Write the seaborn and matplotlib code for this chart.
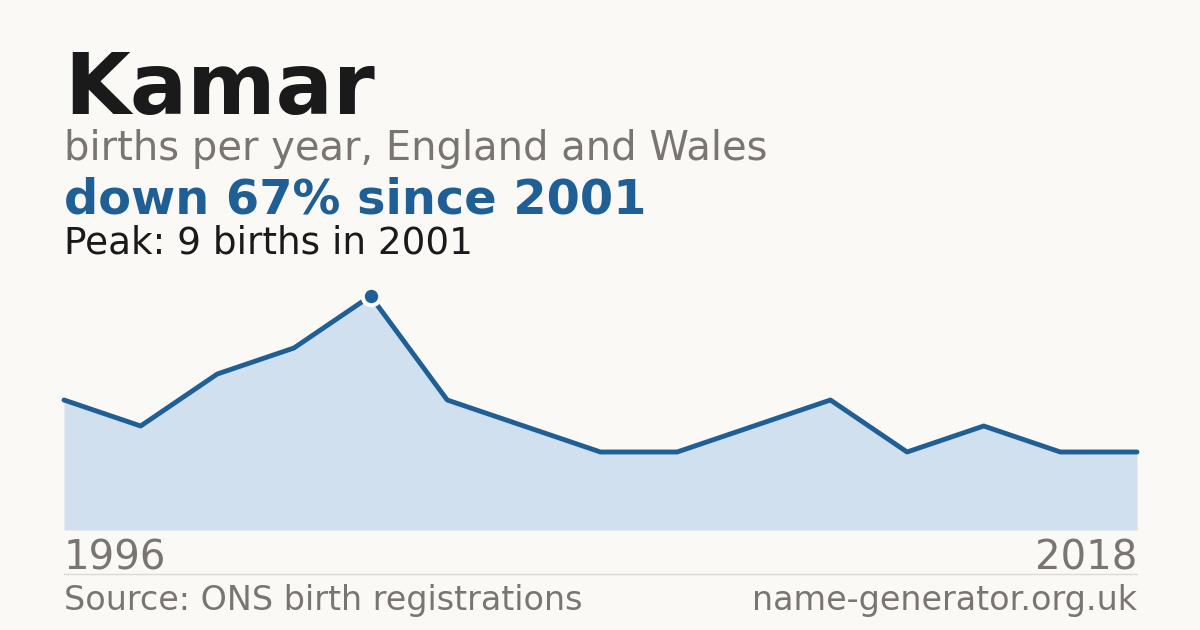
import numpy as np
import pandas as pd
import matplotlib
matplotlib.use("Agg")
import matplotlib.pyplot as plt
import seaborn as sns

# births per year (years with too few births are not published, so points are by position)
births = [5, 4, 6, 7, 9, 5, 4, 3, 3, 4, 5, 3, 4, 3, 3]
first_year = "1996"
last_year = "2018"
peak_idx = 4

BG = "#faf9f5"
BLUE = "#1f5f96"
FILL = "#d0e0ef"
GREY = "#7a7570"
DARK = "#1a1a1a"

sns.set_theme(style="white")
plt.rcParams['font.family'] = ['DejaVu Sans']

df = pd.DataFrame({"pos": np.arange(len(births)), "births": births})

fig = plt.figure(figsize=(12, 6.3), dpi=100, facecolor=BG)

def px(x, y):
    return x / 1200, 1 - y / 630

# plot area: x 64..1137, y 296 (peak) .. 530 (zero)
ax = fig.add_axes([64 / 1200, 100 / 630, (1137 - 64) / 1200, (530 - 296) / 630])
ax.set_facecolor(BG)
ax.fill_between(df["pos"], df["births"], 0, color=FILL, lw=0)
sns.lineplot(data=df, x="pos", y="births", ax=ax, color=BLUE, lw=3.5, clip_on=False)
ax.scatter([peak_idx], [births[peak_idx]], s=160, color=BLUE, edgecolor=BG, linewidth=3,
           zorder=5, clip_on=False)
ax.set_xlim(0, len(births) - 1)
ax.set_ylim(0, max(births))
ax.set_axis_off()

fig.text(*px(64, 114), "Kamar", fontsize=61.2, fontweight="bold", color=DARK, va="baseline")
fig.text(*px(64, 160), "births per year, England and Wales", fontsize=28.8, color=GREY, va="baseline")
fig.text(*px(64, 214), "down 67% since 2001", fontsize=34.5, fontweight="bold", color=BLUE, va="baseline")
fig.text(*px(64, 254), "Peak: 9 births in 2001", fontsize=26.9, color=DARK, va="baseline")

fig.text(*px(64, 570), first_year, fontsize=29, color=GREY, va="baseline")
fig.text(*px(1137, 570), last_year, fontsize=29, color=GREY, va="baseline", ha="right")
fig.add_artist(plt.Line2D([64 / 1200, 1137 / 1200], [1 - 574 / 630] * 2, color="#dcdad5", lw=1))
fig.text(*px(64, 610), "Source: ONS birth registrations", fontsize=24, color=GREY, va="baseline")
fig.text(*px(1137, 610), "name-generator.org.uk", fontsize=24, color=GREY, va="baseline", ha="right")

fig.savefig("out.png", dpi=100, facecolor=BG)
